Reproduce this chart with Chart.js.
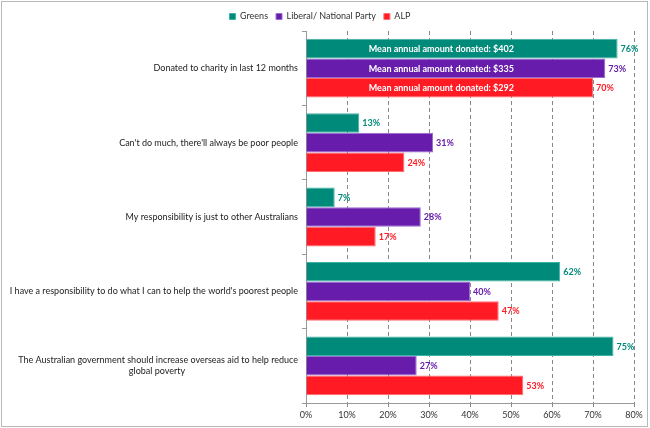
<!DOCTYPE html>
<html>
<head>
<meta charset="utf-8">
<script src="https://cdn.jsdelivr.net/npm/chart.js@4"></script>
<style>
  html, body { margin: 0; padding: 0; background: #fff; }
  #wrap { position: absolute; left: 0; top: 0; width: 650px; height: 428px; }
  #frame { position: absolute; left: 1px; top: 1px; width: 645px; height: 424px; border: 1px solid #b8b8b8; pointer-events: none; }
</style>
</head>
<body>
<div id="wrap"><canvas id="c" width="650" height="428"></canvas><div id="frame"></div></div>
<script>
const categories = [
  "Donated to charity in last 12 months",
  "Can't do much, there'll always be poor people",
  "My responsibility is just to other Australians",
  "I have a responsibility to do what I can to help the world's poorest people",
  ["The Australian government should increase overseas aid to help reduce", "global poverty"]
];
const seriesNames = ["Greens", "Liberal/ National Party", "ALP"];
const greens = [76, 13, 7, 62, 75];
const liberal = [73, 31, 28, 40, 27];
const alp = [70, 24, 17, 47, 53];
const donationNotes = ["Mean annual amount donated: $402", "Mean annual amount donated: $335", "Mean annual amount donated: $292"];
const noteValue = 33;
const xTicks = [0, 10, 20, 30, 40, 50, 60, 70, 80];

const colors = ["#008A79", "#671CAB", "#FF1A24"];
const borders = ["#3FB3A4", "#9B6BD0", "#FF6A70"];
const FONT = "Lato";
const TICK_FONT = "9px " + FONT;

// center the lines of a wrapped label by padding shorter lines with trailing spaces
const mctx = document.createElement('canvas').getContext('2d');
mctx.font = TICK_FONT;
function centerLines(lbl) {
  if (!Array.isArray(lbl)) return lbl;
  const widths = lbl.map(s => mctx.measureText(s).width);
  const maxW = Math.max(...widths);
  const sp = mctx.measureText(' ').width;
  return lbl.map((s, i) => s + ' '.repeat(Math.round((maxW - widths[i]) / 2 / sp)));
}

const labelPlugin = {
  id: 'barLabels',
  afterDatasetsDraw(chart) {
    const ctx = chart.ctx;
    const xs = chart.scales.x;
    ctx.save();
    chart.data.datasets.forEach((ds, di) => {
      const meta = chart.getDatasetMeta(di);
      meta.data.forEach((bar, i) => {
        ctx.font = "bold 9px " + FONT;
        ctx.fillStyle = colors[di];
        ctx.textAlign = "left";
        ctx.textBaseline = "middle";
        ctx.fillText(ds.data[i] + "%", bar.x + 3, bar.y + 0.5);
        if (i === 0) {
          ctx.fillStyle = "#ffffff";
          ctx.textAlign = "center";
          ctx.fillText(donationNotes[di], xs.getPixelForValue(noteValue), bar.y + 0.5);
        }
      });
    });
    ctx.restore();
  }
};

new Chart(document.getElementById('c'), {
  type: 'bar',
  data: {
    labels: categories,
    datasets: [
      { label: seriesNames[0], data: greens, backgroundColor: colors[0], borderColor: borders[0], borderWidth: 1 },
      { label: seriesNames[1], data: liberal, backgroundColor: colors[1], borderColor: borders[1], borderWidth: 1 },
      { label: seriesNames[2], data: alp, backgroundColor: colors[2], borderColor: borders[2], borderWidth: 1 }
    ]
  },
  options: {
    indexAxis: 'y',
    responsive: false,
    animation: false,
    devicePixelRatio: 1,
    categoryPercentage: 0.79,
    barPercentage: 1.0,
    layout: { padding: { left: 6, right: 16, top: 4, bottom: 5 } },
    plugins: {
      legend: {
        position: 'top',
        labels: { boxWidth: 6, boxHeight: 6, padding: 8, color: '#333', font: { family: FONT, size: 9 } }
      },
      tooltip: { enabled: false }
    },
    scales: {
      x: {
        min: 0, max: 80,
        afterBuildTicks(scale) { scale.ticks = xTicks.map(v => ({ value: v })); },
        afterFit(scale) { scale.height = 20; },
        ticks: { callback: v => v + '%', color: '#333', font: { family: FONT, size: 9 }, padding: 3 },
        grid: { color: '#888', lineWidth: 1, tickLength: 4, drawTicks: true },
        border: { display: true, color: '#999', dash: [4, 3] }
      },
      y: {
        afterFit(scale) { scale.width = 300; },
        ticks: {
          color: '#222', font: { family: FONT, size: 9 }, padding: 4, autoSkip: false,
          callback(value) { return centerLines(this.getLabelForValue(value)); }
        },
        grid: { drawOnChartArea: false, tickLength: 4, color: '#999', offset: true },
        border: { display: true, color: '#999' }
      }
    }
  },
  plugins: [labelPlugin]
});
</script>
</body>
</html>
